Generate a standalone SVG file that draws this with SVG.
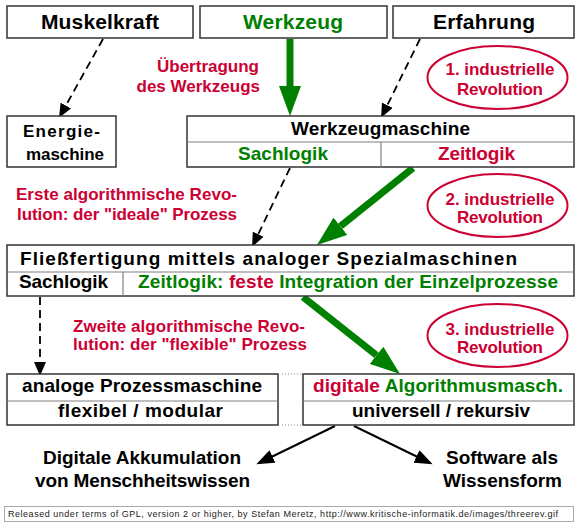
<svg xmlns="http://www.w3.org/2000/svg" width="580" height="527" viewBox="0 0 580 527">
<style>
text{font-family:"Liberation Sans",Arial,sans-serif;font-weight:bold;}
.t21{font-size:21px;}
.t19{font-size:19px;}
.t17{font-size:17px;}
.blk{fill:#000;}
.grn{fill:#008000;}
.red{fill:#cc0033;}
.box{fill:#fff;stroke:#333;stroke-width:1.5;}
.div{stroke:#808080;stroke-width:1.2;fill:none;}
.ell{fill:none;stroke:#cc0033;stroke-width:2;}
.dash{stroke:#000;stroke-width:1.8;stroke-dasharray:8 5;fill:none;}
.solid{stroke:#000;stroke-width:2;fill:none;}
.gar{stroke:#008000;stroke-width:7;fill:none;}
.dot{stroke:#888;stroke-width:1;stroke-dasharray:1 2;fill:none;}
.foot{font-family:"Liberation Sans",Arial,sans-serif;font-weight:normal;font-size:9px;fill:#222;}
</style>
<defs>
<marker id="bh" markerUnits="userSpaceOnUse" markerWidth="14" markerHeight="12" refX="12" refY="6" orient="auto">
<path d="M0,0 L14,6 L0,12 z" fill="#000"/>
</marker>
<marker id="bh2" markerUnits="userSpaceOnUse" markerWidth="18" markerHeight="14" refX="15" refY="7" orient="auto">
<path d="M0,0 L18,7 L0,14 z" fill="#000"/>
</marker>
<marker id="gh" markerUnits="userSpaceOnUse" markerWidth="30" markerHeight="22" refX="0" refY="11" orient="auto">
<path d="M0,0 L30,11 L0,22 z" fill="#008000"/>
</marker>
</defs>
<rect width="580" height="527" fill="#fff"/>

<g id="connectors">
<line class="dash" x1="103" y1="39" x2="60" y2="116" marker-end="url(#bh)"/>
<line class="dash" x1="420" y1="39" x2="382" y2="116" marker-end="url(#bh)"/>
<line class="dash" x1="290" y1="168" x2="253" y2="245" marker-end="url(#bh)"/>
<line class="dash" x1="40" y1="297" x2="40" y2="374" marker-end="url(#bh)"/>
<line class="gar" x1="290" y1="39" x2="290" y2="86" marker-end="url(#gh)"/>
<line class="gar" x1="413" y1="168" x2="340.4" y2="226.2" marker-end="url(#gh)"/>
<line class="gar" x1="303" y1="297" x2="376.5" y2="355.3" marker-end="url(#gh)"/>
<line class="solid" x1="335" y1="426" x2="259" y2="463" marker-end="url(#bh2)"/>
<line class="solid" x1="354" y1="426" x2="430" y2="463" marker-end="url(#bh2)"/>
<line class="dot" x1="282" y1="374" x2="301" y2="374"/>
<line class="dot" x1="282" y1="425" x2="301" y2="425"/>
</g>

<g id="muskelkraft">
<rect class="box" x="7" y="6" width="186" height="32"/>
<text class="t21 blk" x="41" y="29" textLength="118">Muskelkraft</text>
</g>
<g id="werkzeug">
<rect class="box" x="200" y="6" width="187" height="32"/>
<text class="t21 grn" x="243" y="29" textLength="100">Werkzeug</text>
</g>
<g id="erfahrung">
<rect class="box" x="393" y="6" width="181" height="32"/>
<text class="t21 blk" x="433" y="29" textLength="102">Erfahrung</text>
</g>

<g id="label-uebertragung">
<text class="t17 red" x="259" y="72" text-anchor="end">Übertragung</text>
<text class="t17 red" x="260" y="92" text-anchor="end">des Werkzeugs</text>
</g>

<g id="rev1">
<ellipse class="ell" cx="497.5" cy="77.5" rx="70" ry="31.5"/>
<text class="t17 red" x="500" y="75" text-anchor="middle" textLength="109">1. industrielle</text>
<text class="t17 red" x="500" y="95" text-anchor="middle" textLength="86">Revolution</text>
</g>

<g id="energiemaschine">
<rect class="box" x="7" y="116" width="109" height="51"/>
<text class="t17 blk" x="23" y="137" textLength="77">Energie-</text>
<text class="t17 blk" x="26" y="160" textLength="78">maschine</text>
</g>

<g id="werkzeugmaschine">
<rect class="box" x="187" y="116" width="387" height="51"/>
<line class="div" x1="187" y1="142" x2="574" y2="142"/>
<line class="div" x1="381" y1="142" x2="381" y2="167"/>
<text class="t19 blk" x="291" y="135" textLength="179">Werkzeugmaschine</text>
<text class="t19 grn" x="238" y="160" textLength="90">Sachlogik</text>
<text class="t19 red" x="438" y="160" textLength="77">Zeitlogik</text>
</g>

<g id="label-erste">
<text class="t17 red" x="16" y="200" textLength="221">Erste algorithmische Revo-</text>
<text class="t17 red" x="17" y="220" textLength="220">lution: der "ideale" Prozess</text>
</g>

<g id="rev2">
<ellipse class="ell" cx="497.5" cy="205.5" rx="70" ry="31.5"/>
<text class="t17 red" x="500" y="205" text-anchor="middle" textLength="109">2. industrielle</text>
<text class="t17 red" x="500" y="223" text-anchor="middle" textLength="86">Revolution</text>
</g>

<g id="fliessfertigung">
<rect class="box" x="7" y="245" width="567" height="51"/>
<line class="div" x1="7" y1="272" x2="574" y2="272"/>
<line class="div" x1="123" y1="272" x2="123" y2="296"/>
<text class="t19 blk" x="20" y="265" textLength="497">Fließfertigung mittels analoger Spezialmaschinen</text>
<text class="t19 blk" x="19" y="288" textLength="89">Sachlogik</text>
<text class="t19" x="138" y="288" textLength="420"><tspan class="grn">Zeitlogik: </tspan><tspan class="red">feste </tspan><tspan class="grn">Integration der Einzelprozesse</tspan></text>
</g>

<g id="label-zweite">
<text class="t17 red" x="73" y="332" textLength="232">Zweite algorithmische Revo-</text>
<text class="t17 red" x="73" y="350" textLength="234">lution: der "flexible" Prozess</text>
</g>

<g id="rev3">
<ellipse class="ell" cx="497.5" cy="335.5" rx="70" ry="31.5"/>
<text class="t17 red" x="500" y="335" text-anchor="middle" textLength="109">3. industrielle</text>
<text class="t17 red" x="500" y="353" text-anchor="middle" textLength="86">Revolution</text>
</g>

<g id="analoge-prozessmaschine">
<rect class="box" x="7" y="374" width="271" height="51"/>
<line class="div" x1="7" y1="401" x2="278" y2="401"/>
<text class="t19 blk" x="22" y="392" textLength="240">analoge Prozessmaschine</text>
<text class="t19 blk" x="58" y="417" textLength="165">flexibel / modular</text>
</g>

<g id="digitale-algorithmusmaschine">
<rect class="box" x="303" y="374" width="271" height="51"/>
<line class="div" x1="303" y1="401" x2="574" y2="401"/>
<text class="t19" x="313" y="392" textLength="250"><tspan class="red">digitale </tspan><tspan class="grn">Algorithmusmasch.</tspan></text>
<text class="t19 blk" x="352" y="417" textLength="178">universell / rekursiv</text>
</g>

<g id="digitale-akkumulation">
<text class="t19 blk" x="43" y="464" textLength="198">Digitale Akkumulation</text>
<text class="t19 blk" x="35" y="487" textLength="215">von Menschheitswissen</text>
</g>

<g id="software-wissensform">
<text class="t19 blk" x="446" y="464" textLength="112">Software als</text>
<text class="t19 blk" x="443" y="487" textLength="119">Wissensform</text>
</g>

<g id="footer">
<rect x="4.5" y="506.5" width="569" height="15" fill="#fff" stroke="#aaa" stroke-width="1"/>
<text class="foot" x="8" y="517" textLength="550">Released under terms of GPL, version 2 or higher, by Stefan Meretz, http://www.kritische-informatik.de/images/threerev.gif</text>
</g>
</svg>
